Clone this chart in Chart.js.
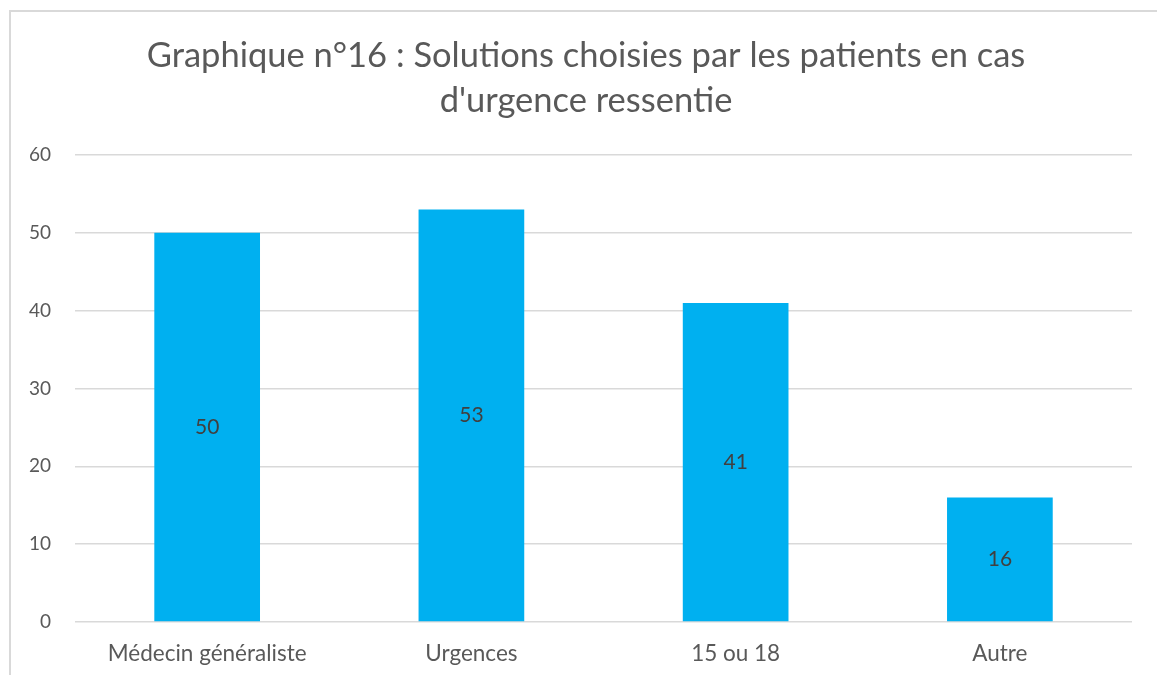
<!DOCTYPE html>
<html>
<head>
<meta charset="utf-8">
<script src="https://cdn.jsdelivr.net/npm/chart.js@4"></script>
<style>
  html, body { margin: 0; padding: 0; background: #fff; overflow: hidden; }
  #wrap { position: relative; width: 1157px; height: 675px; overflow: hidden; }
  #frame { position: absolute; left: 9px; top: 10px; width: 1300px; height: 800px;
           border-left: 2px solid #d9d9d9; border-top: 2px solid #d9d9d9; pointer-events: none; }
</style>
</head>
<body>
<div id="wrap">
  <canvas id="myChart" width="1157" height="693"></canvas>
  <div id="frame"></div>
</div>
<script>
const categories = ["Médecin généraliste", "Urgences", "15 ou 18", "Autre"];
const values = [50, 53, 41, 16];
const titleLines = ["Graphique n°16 : Solutions choisies par les patients en cas", "d'urgence ressentie"];

const fontFamily = "Lato, 'Open Sans', sans-serif";

// value labels drawn in the middle of each bar
const barLabels = {
  id: "barLabels",
  afterDatasetsDraw(chart) {
    const ctx = chart.ctx;
    ctx.save();
    ctx.font = "21px " + fontFamily;
    ctx.fillStyle = "#404040";
    ctx.textAlign = "center";
    ctx.textBaseline = "middle";
    chart.getDatasetMeta(0).data.forEach((bar, i) => {
      ctx.fillText(String(values[i]), bar.x, (bar.y + bar.base) / 2);
    });
    ctx.restore();
  }
};

// title, centred a bit right of the canvas middle like the original
const chartTitle = {
  id: "chartTitle",
  afterDraw(chart) {
    const ctx = chart.ctx;
    ctx.save();
    ctx.font = "34.5px " + fontFamily;
    ctx.fillStyle = "#595959";
    ctx.textAlign = "center";
    ctx.textBaseline = "middle";
    titleLines.forEach((line, i) => {
      ctx.fillText(line, 586, 56 + i * 45);
    });
    ctx.restore();
  }
};

const myChartRef = document.getElementById("myChart").getContext("2d");
new Chart(myChartRef, {
  type: "bar",
  data: {
    labels: categories,
    datasets: [
      {
        data: values,
        backgroundColor: "#00b0f0",
        categoryPercentage: 1,
        barPercentage: 0.4,
      },
    ],
  },
  options: {
    responsive: false,
    animation: false,
    layout: { padding: { top: 155, left: 5, right: 25, bottom: 8 } },
    plugins: {
      legend: { display: false },
      tooltip: { enabled: false },
      title: { display: false },
    },
    scales: {
      x: {
        grid: { display: false, drawTicks: false },
        border: { display: false },
        ticks: { color: "#595959", font: { family: fontFamily, size: 22.5 }, padding: 18 },
      },
      y: {
        min: 0,
        max: 60,
        ticks: { stepSize: 10, color: "#595959", font: { family: fontFamily, size: 19 }, padding: 24 },
        grid: { color: "#d9d9d9", lineWidth: 1.5, drawTicks: false },
        border: { display: false },
      },
    },
  },
  plugins: [barLabels, chartTitle],
});
</script>
</body>
</html>
